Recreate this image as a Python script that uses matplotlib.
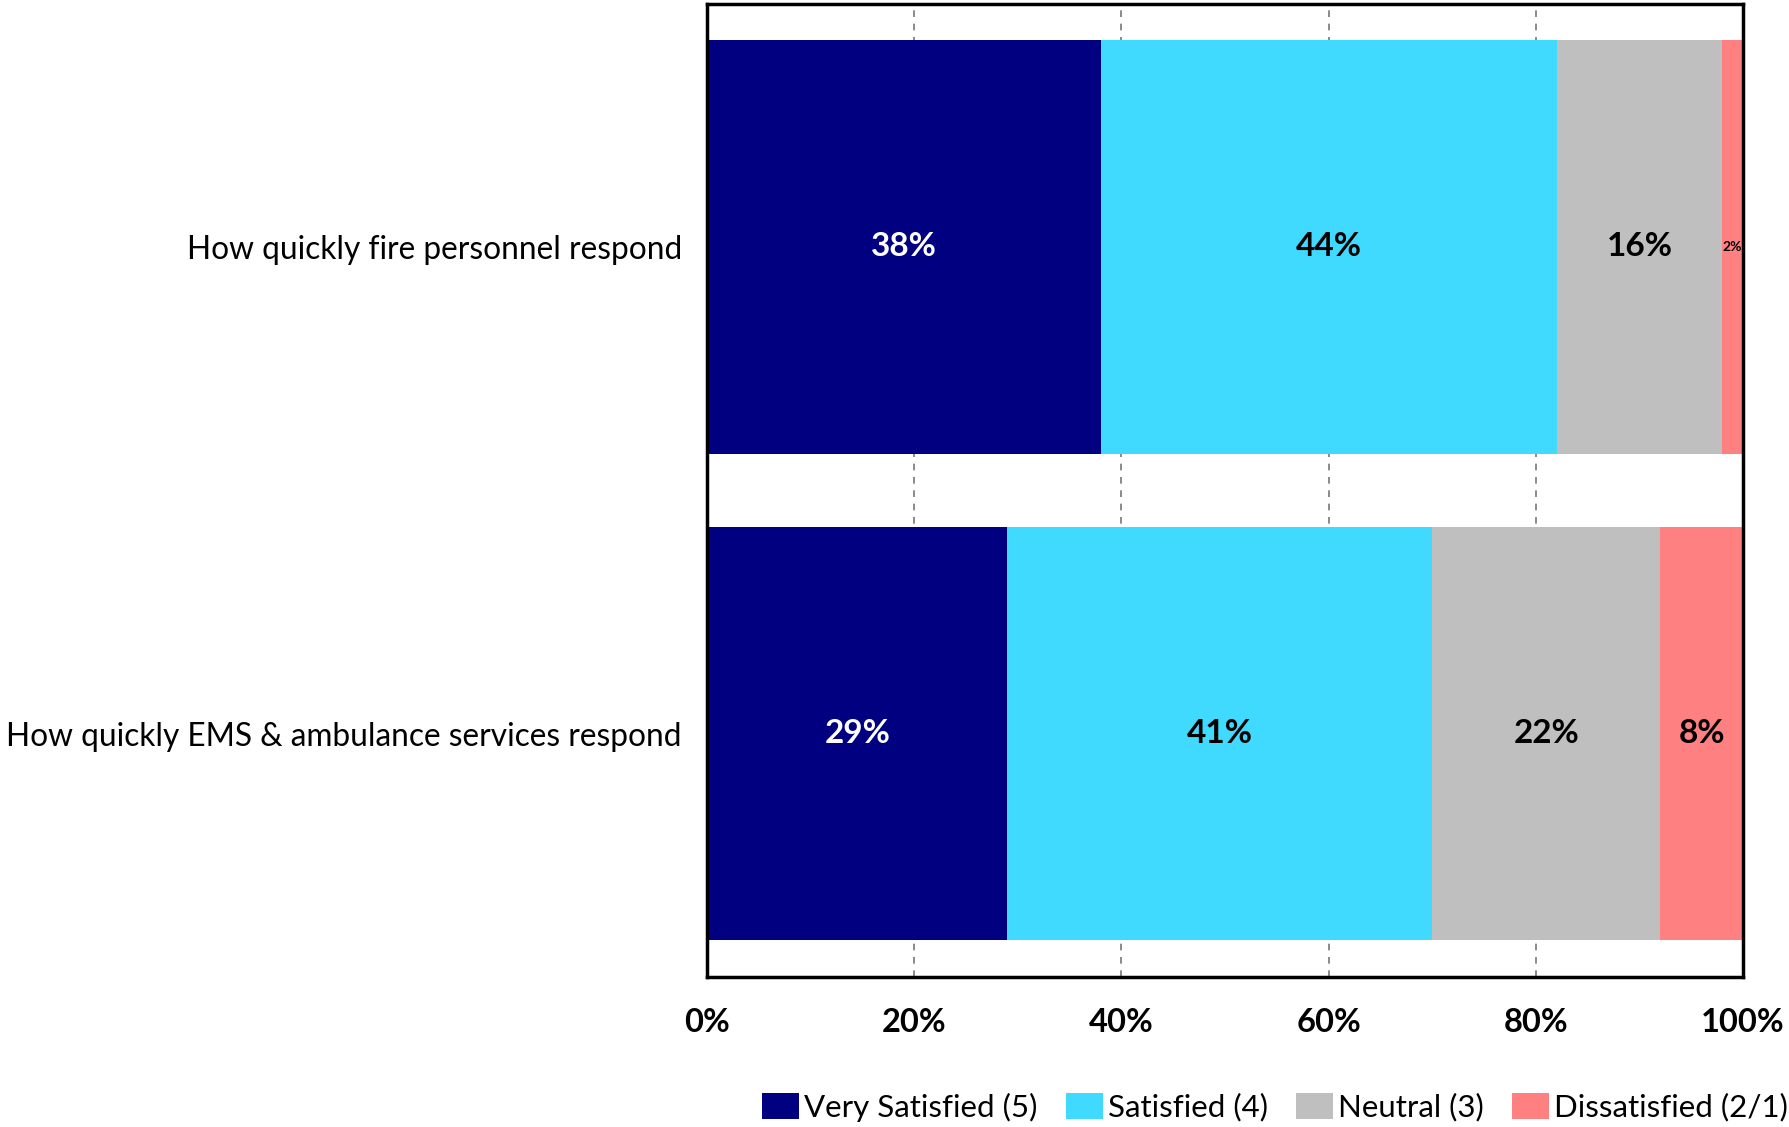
import matplotlib.pyplot as plt
import numpy as np

plt.rcParams['font.family'] = ['Lato', 'DejaVu Sans']

questions = ["How quickly fire personnel respond",
             "How quickly EMS & ambulance services respond"]
levels = ["Very Satisfied (5)", "Satisfied (4)", "Neutral (3)", "Dissatisfied (2/1)"]
colors = ["#000080", "#40D9FF", "#BFBFBF", "#FF8080"]
text_colors = ["white", "black", "black", "black"]

very_satisfied = [38, 29]
satisfied = [44, 41]
neutral = [16, 22]
dissatisfied = [2, 8]
series = [very_satisfied, satisfied, neutral, dissatisfied]

fig = plt.figure(figsize=(17.9, 11.27), dpi=100)
ax = fig.add_axes([707 / 1790, 1 - 977 / 1127, (1743 - 707) / 1790, (977 - 3.5) / 1127])

y = np.arange(len(questions))
left = np.zeros(len(questions))
for vals, col, tc, name in zip(series, colors, text_colors, levels):
    vals = np.array(vals)
    ax.barh(y, vals, left=left, height=0.85, color=col, label=name, zorder=2)
    for yi, v, l in zip(y, vals, left):
        small = v < 5
        ax.text(l + v / 2, yi, f"{v}%", ha="center", va="center",
                color=tc, fontweight="bold", fontsize=10 if small else 24, zorder=3)
    left += vals

ax.set_xlim(0, 100)
ax.set_ylim(1.5, -0.5)
ax.set_yticks(y)
ax.set_yticklabels(questions, fontsize=22.8)
ax.set_xticks(np.arange(0, 101, 20))
ax.set_xticklabels([f"{t}%" for t in range(0, 101, 20)], fontsize=23.5, fontweight="bold")
ax.tick_params(axis="both", length=0)
ax.tick_params(axis="x", pad=22)
ax.tick_params(axis="y", pad=18)
ax.grid(axis="x", linestyle=(0, (4, 4)), color="#777777", linewidth=1.2, zorder=1)
ax.set_axisbelow(True)
for s in ax.spines.values():
    s.set_linewidth(2.5)
    s.set_color("black")

ax.legend(loc="center right", bbox_to_anchor=(1788 / 1790, 1 - 1107 / 1127), bbox_transform=fig.transFigure,
          ncol=4, frameon=False, fontsize=22.5, handlelength=1.2, handleheight=0.9,
          handletextpad=0.15, columnspacing=0.9, borderaxespad=0, borderpad=0)

fig.savefig("out.png", dpi=100)
